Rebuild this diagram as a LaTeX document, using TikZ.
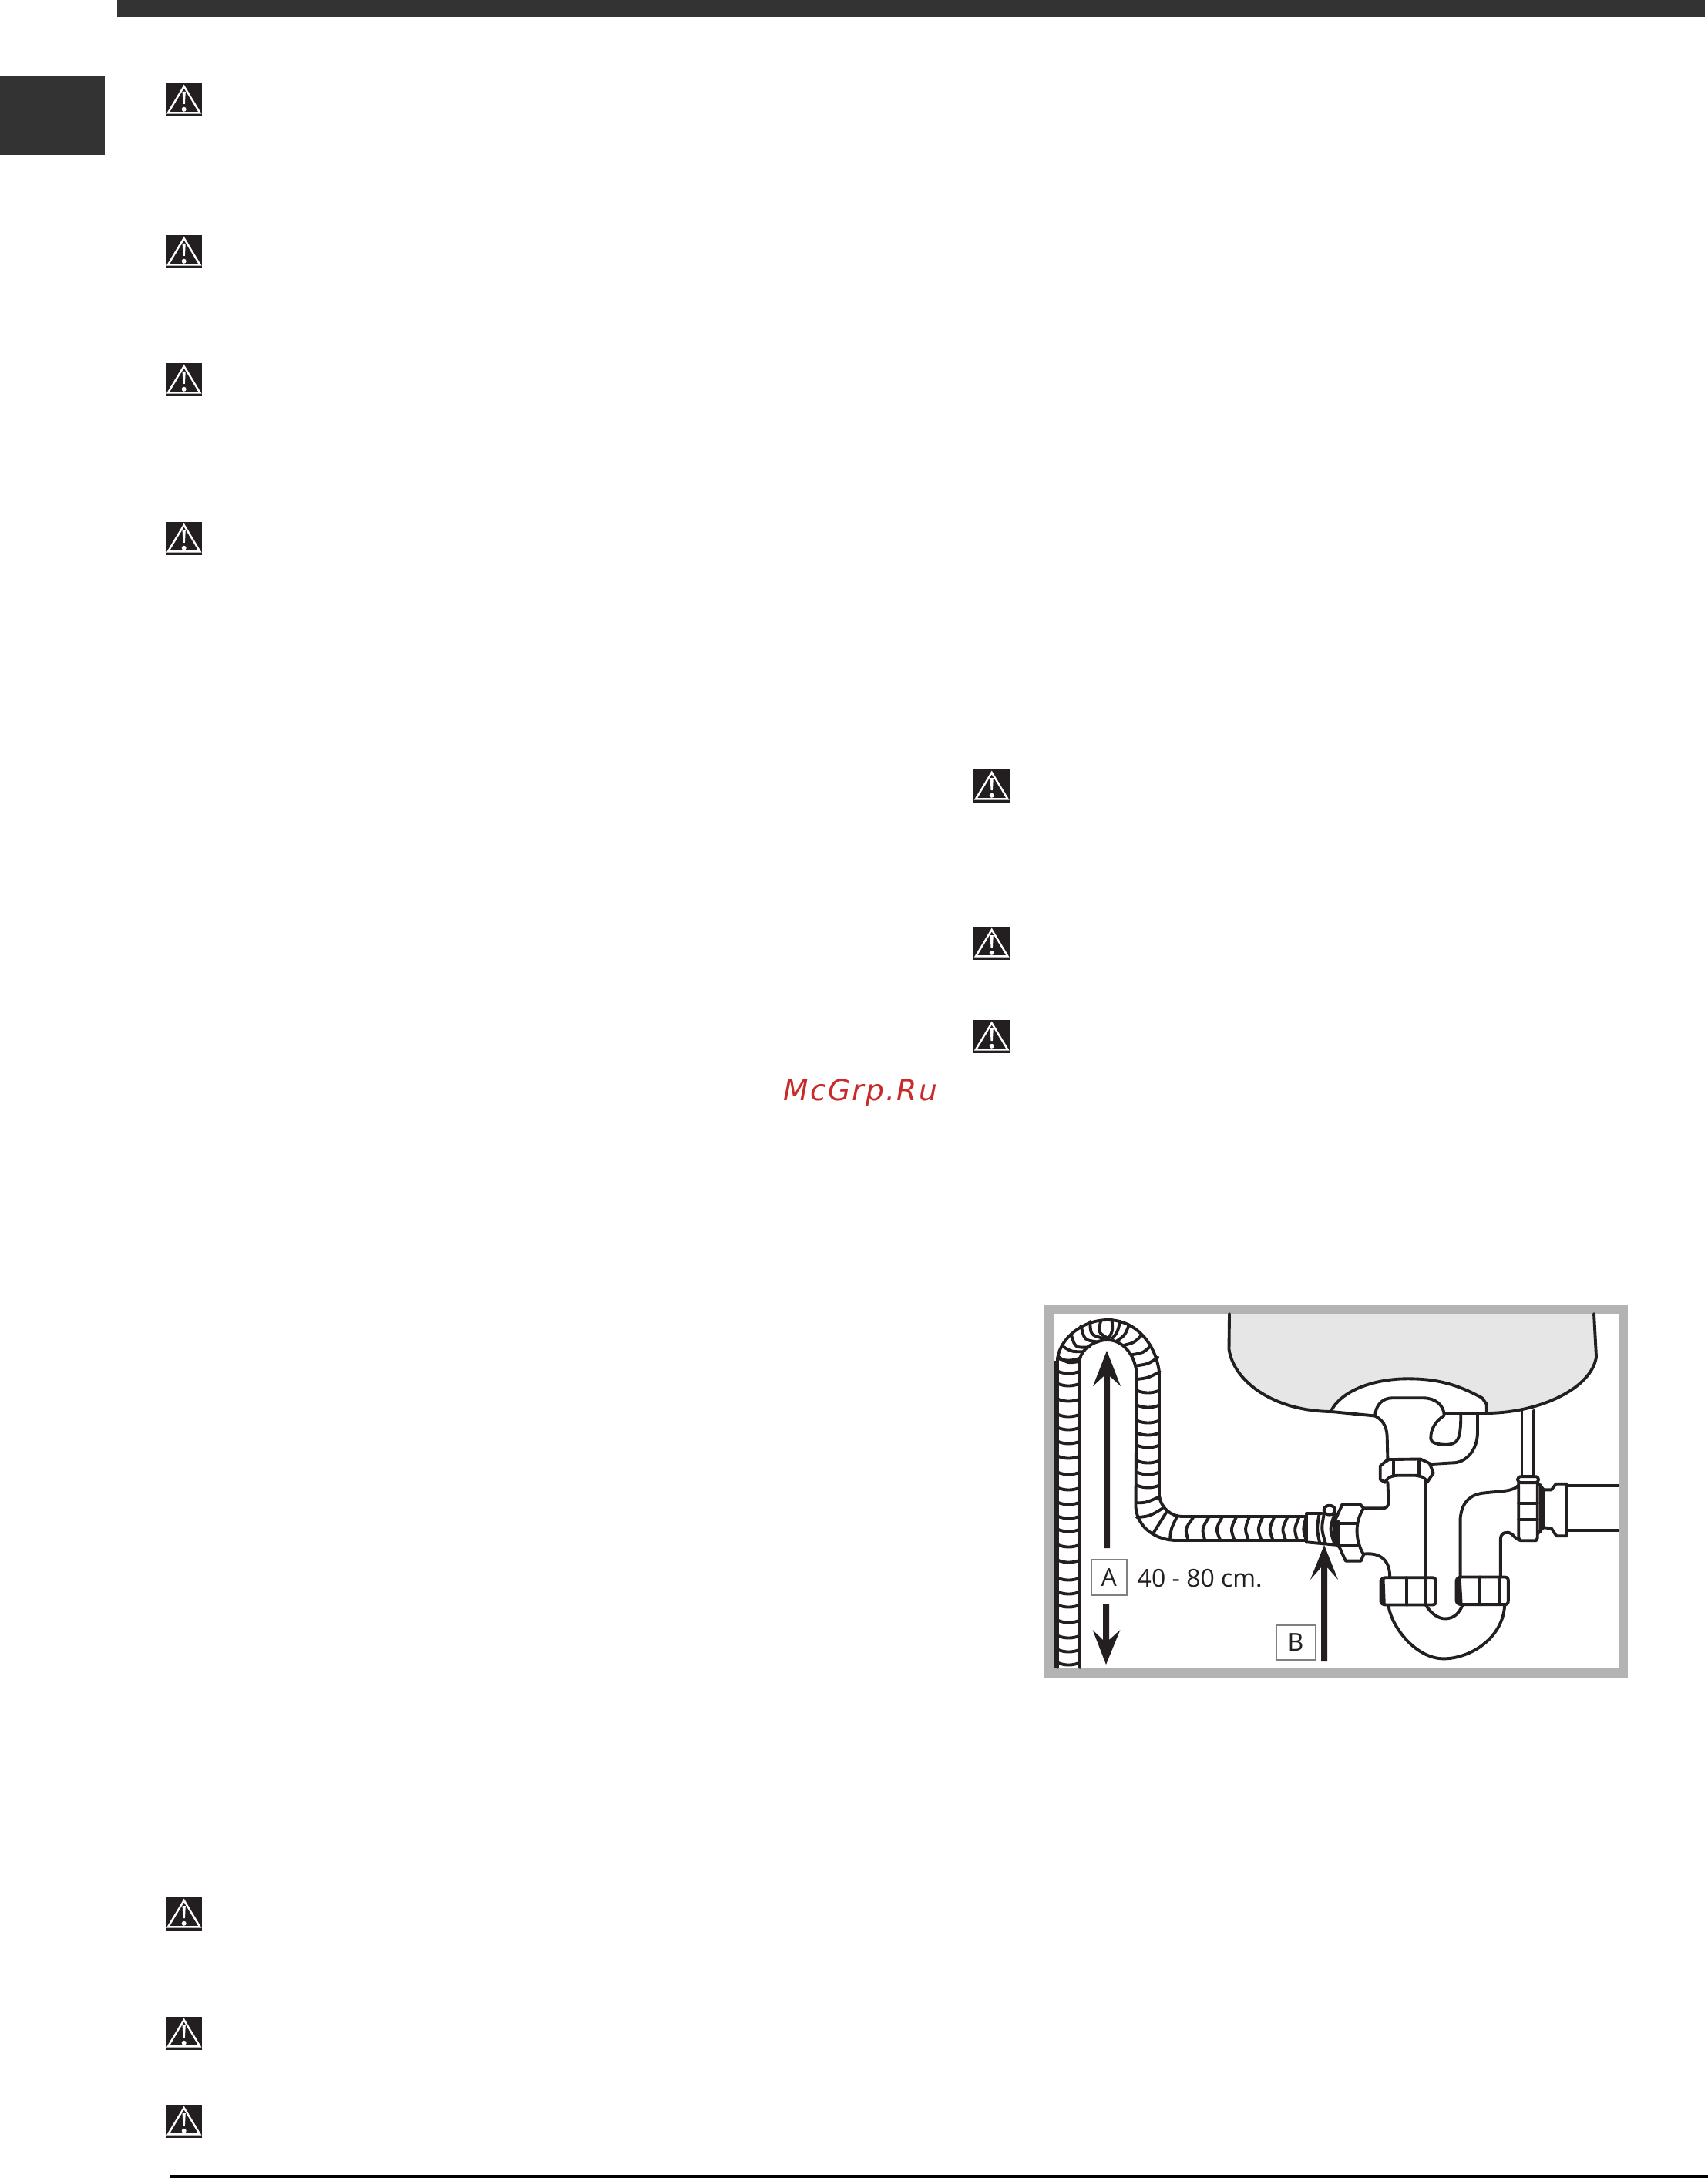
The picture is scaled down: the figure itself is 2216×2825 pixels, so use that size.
\documentclass[tikz,border=0pt]{standalone}
\usepackage{fontspec}
\setmainfont{Open Sans}
\newfontfamily\wmfont[LetterSpace=6]{DejaVu Sans}
\definecolor{ink}{HTML}{231F20}
\definecolor{bar}{HTML}{333333}
\definecolor{framegray}{HTML}{B3B3B3}
\definecolor{basin}{HTML}{E6E6E6}
\definecolor{boxgray}{HTML}{808080}
\definecolor{wmred}{HTML}{C92A2A}
\tikzset{
  ln/.style={draw=ink,line width=1.1pt,line join=round,line cap=round},
  labelbox/.style={draw=boxgray,line width=0.5pt,fill=white},
  lab/.style={font=\fontsize{9.1}{11}\selectfont,text=ink,inner sep=0pt},
  warn/.pic={
    \fill[ink] (0,0) rectangle (47,43);
    \draw[white,line width=0.7pt,line join=miter] (23.7,4) -- (3,38.4) -- (44.4,38.4) -- cycle;
    \fill[white] (21.6,11) -- (25.8,11) -- (24.9,27) -- (22.5,27) -- cycle;
    \fill[white] (23.7,33.8) circle (3);
  }
}
\begin{document}
\begin{tikzpicture}[x=0.01cm,y=-0.01cm]
\useasboundingbox (0,0) rectangle (2216,2825);
\fill[white] (0,0) rectangle (2216,2825);
% page furniture
\fill[bar] (152,0) rectangle (2212,22);
\fill[bar] (0,99) rectangle (136,201);
\fill[black] (220,2821) rectangle (2216,2825);
\foreach \px/\py in {215/108,215/305,215/471,215/677,215/2461,215/2616,215/2730,1263/998,1263/1202,1263/1323}
  \pic at (\px,\py) {warn};
\node[anchor=base west,inner sep=0pt,text=wmred,font=\wmfont\itshape\fontsize{10.7}{12}\selectfont] (wm) at (1016,1427) {McGrp.Ru};

% frame
\fill[framegray] (1355,1693) rectangle (2112,2176);
\fill[white] (1368,1704) rectangle (2100,2164);

% basin
\fill[basin] (1595,1704) -- (1594.5,1750) .. controls (1600,1790) and (1650,1830) .. (1727,1831)
  -- (1928,1833) .. controls (2000,1832) and (2065,1800) .. (2071,1760) -- (2068,1704) -- cycle;
\draw[ln] (1595,1704) -- (1594.5,1750) .. controls (1600,1790) and (1650,1830) .. (1727,1831);
\draw[ln] (1930,1833) .. controls (2000,1832) and (2065,1800) .. (2071,1760) -- (2068,1704);

% hose: outer and inner walls
\draw[line width=0.55pt,draw=ink] (1369,1765) -- (1369,2164);
\draw[ln] (1372,2163) -- (1372,1762) .. controls (1376,1735) and (1405,1712) .. (1437,1712)
  .. controls (1475,1712) and (1500,1745) .. (1504,1780) -- (1504,1940)
  .. controls (1506,1955) and (1518,1967) .. (1535,1967) -- (1695,1967);
\draw[ln] (1401,2163) -- (1401,1763) .. controls (1403,1750) and (1420,1738) .. (1437,1738)
  .. controls (1455,1738) and (1472,1755) .. (1474.5,1780) -- (1473.5,1955)
  .. controls (1476,1982) and (1500,1998) .. (1527,1998) -- (1695,1998);
\foreach \y in {1765,1782,1798,1818,1838,1855,1873,1892,1913,1933,1952,1970,1987,2007,2027,2050,2068,2085,2105,2125,2143,2160}
  \draw[ln] (1372,\y-3.5) .. controls (1381,\y+0.5) and (1392,\y+0.5) .. (1401,\y-3.5);
\foreach \y in {1807,1826,1846,1862,1878,1898,1913,1930}
  \draw[ln] (1475,\y-3.5) .. controls (1484,\y+0.5) and (1495,\y+0.5) .. (1504,\y-3.5);
% arch ribs, in zoomed coordinates
\begin{scope}[shift={(1350,1700)},x=0.0033333cm,y=-0.0033333cm]
  \foreach \a/\b/\c/\d/\e/\f in {
    372/268/420/262/465/238,
    372/215/420/208/458/182,
    355/172/400/165/432/135,
    325/135/365/125/395/95,
    298/118/330/95/345/55,
    278/110/300/85/310/42,
    265/108/282/80/278/35,
    258/105/225/85/235/38,
    245/108/195/95/193/42,
    225/122/170/115/158/58,
    190/142/135/145/120/95,
    165/160/120/160/88/140,
    153/198/105/205/68/178}
    \draw[ln] (\a,\b) .. controls (\c,\d) .. (\e,\f);
\end{scope}
% bend ribs
\begin{scope}[shift={(1420,1900)},x=0.0033333cm,y=-0.0033333cm]
  \draw[ln] (160,148) .. controls (200,148) .. (252,125);
  \draw[ln] (165,205) .. controls (215,200) .. (265,170);
  \draw[ln] (230,265) -- (280,185);
  \draw[ln] (295,285) .. controls (298,250) .. (320,205);
  \foreach \b/\m/\t in {365/352/385,430/418/445,490/472/497,545/530/552,600/585/603,650/635/655,695/680/700,745/730/752,790/778/797,825/812/825}
    \draw[ln] (\b,292) .. controls (\m,250) .. (\t,205);
\end{scope}

% trap, in zoomed coordinates
\begin{scope}[shift={(1650,1760)},x=0.0033333cm,y=-0.0033333cm]
  % flange
  \fill[white] (230,213) .. controls (270,130) and (400,85) .. (530,85)
    .. controls (640,85) and (720,105) .. (820,160) -- (838,185) -- (838,225) -- (400,232) -- cycle;
  \draw[ln] (230,213) .. controls (270,130) and (400,85) .. (530,85)
    .. controls (640,85) and (720,105) .. (820,160) -- (838,185) -- (838,218);
  \draw[ln] (230,213) -- (403,230);
  \draw[ln] (672,220) -- (838,220);
  \draw[ln] (403,228) .. controls (405,190) and (430,160) .. (470,160) -- (590,160)
    .. controls (640,160) and (670,190) .. (672,225);
  % neck
  \draw[ln] (403,230) .. controls (440,250) and (450,280) .. (450,320) -- (452,405);
  \draw[ln] (672,228) .. controls (640,250) and (618,280) .. (620,320)
    .. controls (620,335) and (650,342) .. (680,342) .. controls (725,340) and (737,325) .. (737,225);
  \draw[ln] (802,225) -- (802,300) .. controls (800,360) and (760,415) .. (700,413) -- (620,418);
  % upper nut
  \draw[ln] (452,400) -- (580,398) -- (615,415) -- (630,452) -- (605,490);
  \draw[ln] (452,400) -- (423,425) -- (423,478) -- (443,490);
  \draw[ln] (475,405) -- (475,465);
  \draw[ln] (575,400) -- (575,465);
  \draw[ln] (443,485) .. controls (455,468) and (470,462) .. (490,462) -- (560,462) .. controls (580,462) and (595,470) .. (605,485);
  % tee body
  \draw[ln] (452,488) -- (455,565) .. controls (455,585) and (445,590) .. (430,590) -- (360,590);
  \draw[ln] (600,485) -- (600,860);
  \draw[ln] (358,768) .. controls (430,760) and (462,800) .. (460,860);
  % side nut
  \draw[ln] (275,575) -- (345,575) -- (358,590) .. controls (325,640) and (322,710) .. (358,770) -- (348,795) -- (288,795) -- (262,738) -- (245,730);
  \draw[ln] (275,575) -- (245,640) -- (245,730);
  \draw[ln] (258,640) -- (258,738);
  \draw[ln] (248,650) -- (330,650);
  \draw[ln] (262,735) -- (342,735);
  % hose collar
  \draw[ln] (135,722) -- (135,610) -- (195,610);
  \draw[ln] (135,722) -- (245,732);
  \draw[ln] (185,612) .. controls (175,670) .. (187,725);
  \draw[ln] (203,615) .. controls (193,670) .. (210,728);
  \draw[ln,fill=white] (225,597) ellipse (22 and 18);
  \draw[ln] (245,612) .. controls (225,670) .. (245,730);
  % lower nuts
  \draw[ln,fill=white] (425,875) .. controls (425,865) and (435,860) .. (445,860) -- (625,860) .. controls (635,860) and (640,865) .. (640,875)
    -- (640,952) .. controls (640,962) and (635,966) .. (625,966) -- (445,966) .. controls (435,966) and (425,962) .. (425,952) -- cycle;
  \fill[ink] (422,875) -- (440,862) -- (444,966) -- (424,960) -- cycle;
  \draw[ln] (525,860) -- (525,966);
  \draw[ln] (600,860) -- (600,966);
  \draw[ln,fill=white] (720,873) .. controls (720,863) and (730,858) .. (740,858) -- (908,858) .. controls (918,858) and (922,863) .. (922,873)
    -- (922,950) .. controls (922,960) and (918,965) .. (908,965) -- (740,965) .. controls (730,965) and (720,960) .. (720,950) -- cycle;
  \fill[ink] (717,873) -- (738,860) -- (744,965) -- (720,958) -- cycle;
  \draw[ln] (812,858) -- (812,965);
  \draw[ln] (888,858) -- (888,965);
  % U bend
  \draw[ln] (455,968) .. controls (465,1050) and (560,1176) .. (670,1176) .. controls (770,1176) and (900,1100) .. (908,968);
  \draw[ln] (600,966) .. controls (620,1000) and (650,1020) .. (675,1020) .. controls (710,1020) and (730,1000) .. (745,965);
  % right riser
  \draw[ln] (735,858) -- (735,630) .. controls (740,570) and (770,535) .. (830,530) .. controls (900,522) and (940,525) .. (962,500);
  \draw[ln] (892,858) -- (892,710) .. controls (892,680) and (925,680) .. (935,690) .. controls (950,705) and (955,710) .. (968,715);
  % supply pipe and valve
  \draw[ln] (975,210) -- (975,465);
  \draw[ln] (1022,210) -- (1022,465);
  \draw[ln,fill=white] (958,478) .. controls (958,470) and (965,466) .. (975,466) -- (1025,466) .. controls (1035,466) and (1040,470) .. (1040,478) .. controls (1040,486) and (1035,490) .. (1025,490) -- (975,490) .. controls (965,490) and (958,486) .. (958,478) -- cycle;
  \draw[ln] (962,490) -- (962,705) -- (970,716) -- (1030,716) -- (1036,705) -- (1036,490);
  \draw[ln] (962,570) -- (1036,570);
  \draw[ln] (962,634) -- (1036,634);
  \draw[ln] (1048,500) -- (1048,682);
  \draw[ln] (1036,490) -- (1058,515) -- (1058,665) -- (1036,690);
  \draw[ln] (1058,518) -- (1090,518) -- (1108,495) -- (1150,495) -- (1150,698) -- (1110,698) -- (1090,668) -- (1058,665);
  \draw[ln] (1150,503) -- (1350,503);
  \draw[ln] (1150,675) -- (1350,675);
\end{scope}

% dimension arrows
\fill[ink] (1432,2008) -- (1432,1785) -- (1418,1798) -- (1436,1752) -- (1454,1798) -- (1440,1785) -- (1440,2008) -- cycle;
\fill[ink] (1431,2081) -- (1431,2127) -- (1417.6,2114) -- (1435,2159) -- (1453.4,2114) -- (1439,2127) -- (1439,2081) -- cycle;
\fill[ink] (1714,2155) -- (1714,2033) -- (1700,2049) -- (1718,2004) -- (1736,2049) -- (1722,2033) -- (1722,2155) -- cycle;

% labels
\draw[labelbox] (1415.6,2023.3) rectangle (1461.6,2069);
\node[lab] (labelA) at (1438.6,2046.5) {A};
\node[lab,anchor=west] (dim) at (1475,2047) {40 - 80 cm.};
\draw[labelbox] (1655.7,2107.7) rectangle (1706.7,2153.3);
\node[lab] (labelB) at (1681,2130.5) {B};
\end{tikzpicture}
\end{document}
